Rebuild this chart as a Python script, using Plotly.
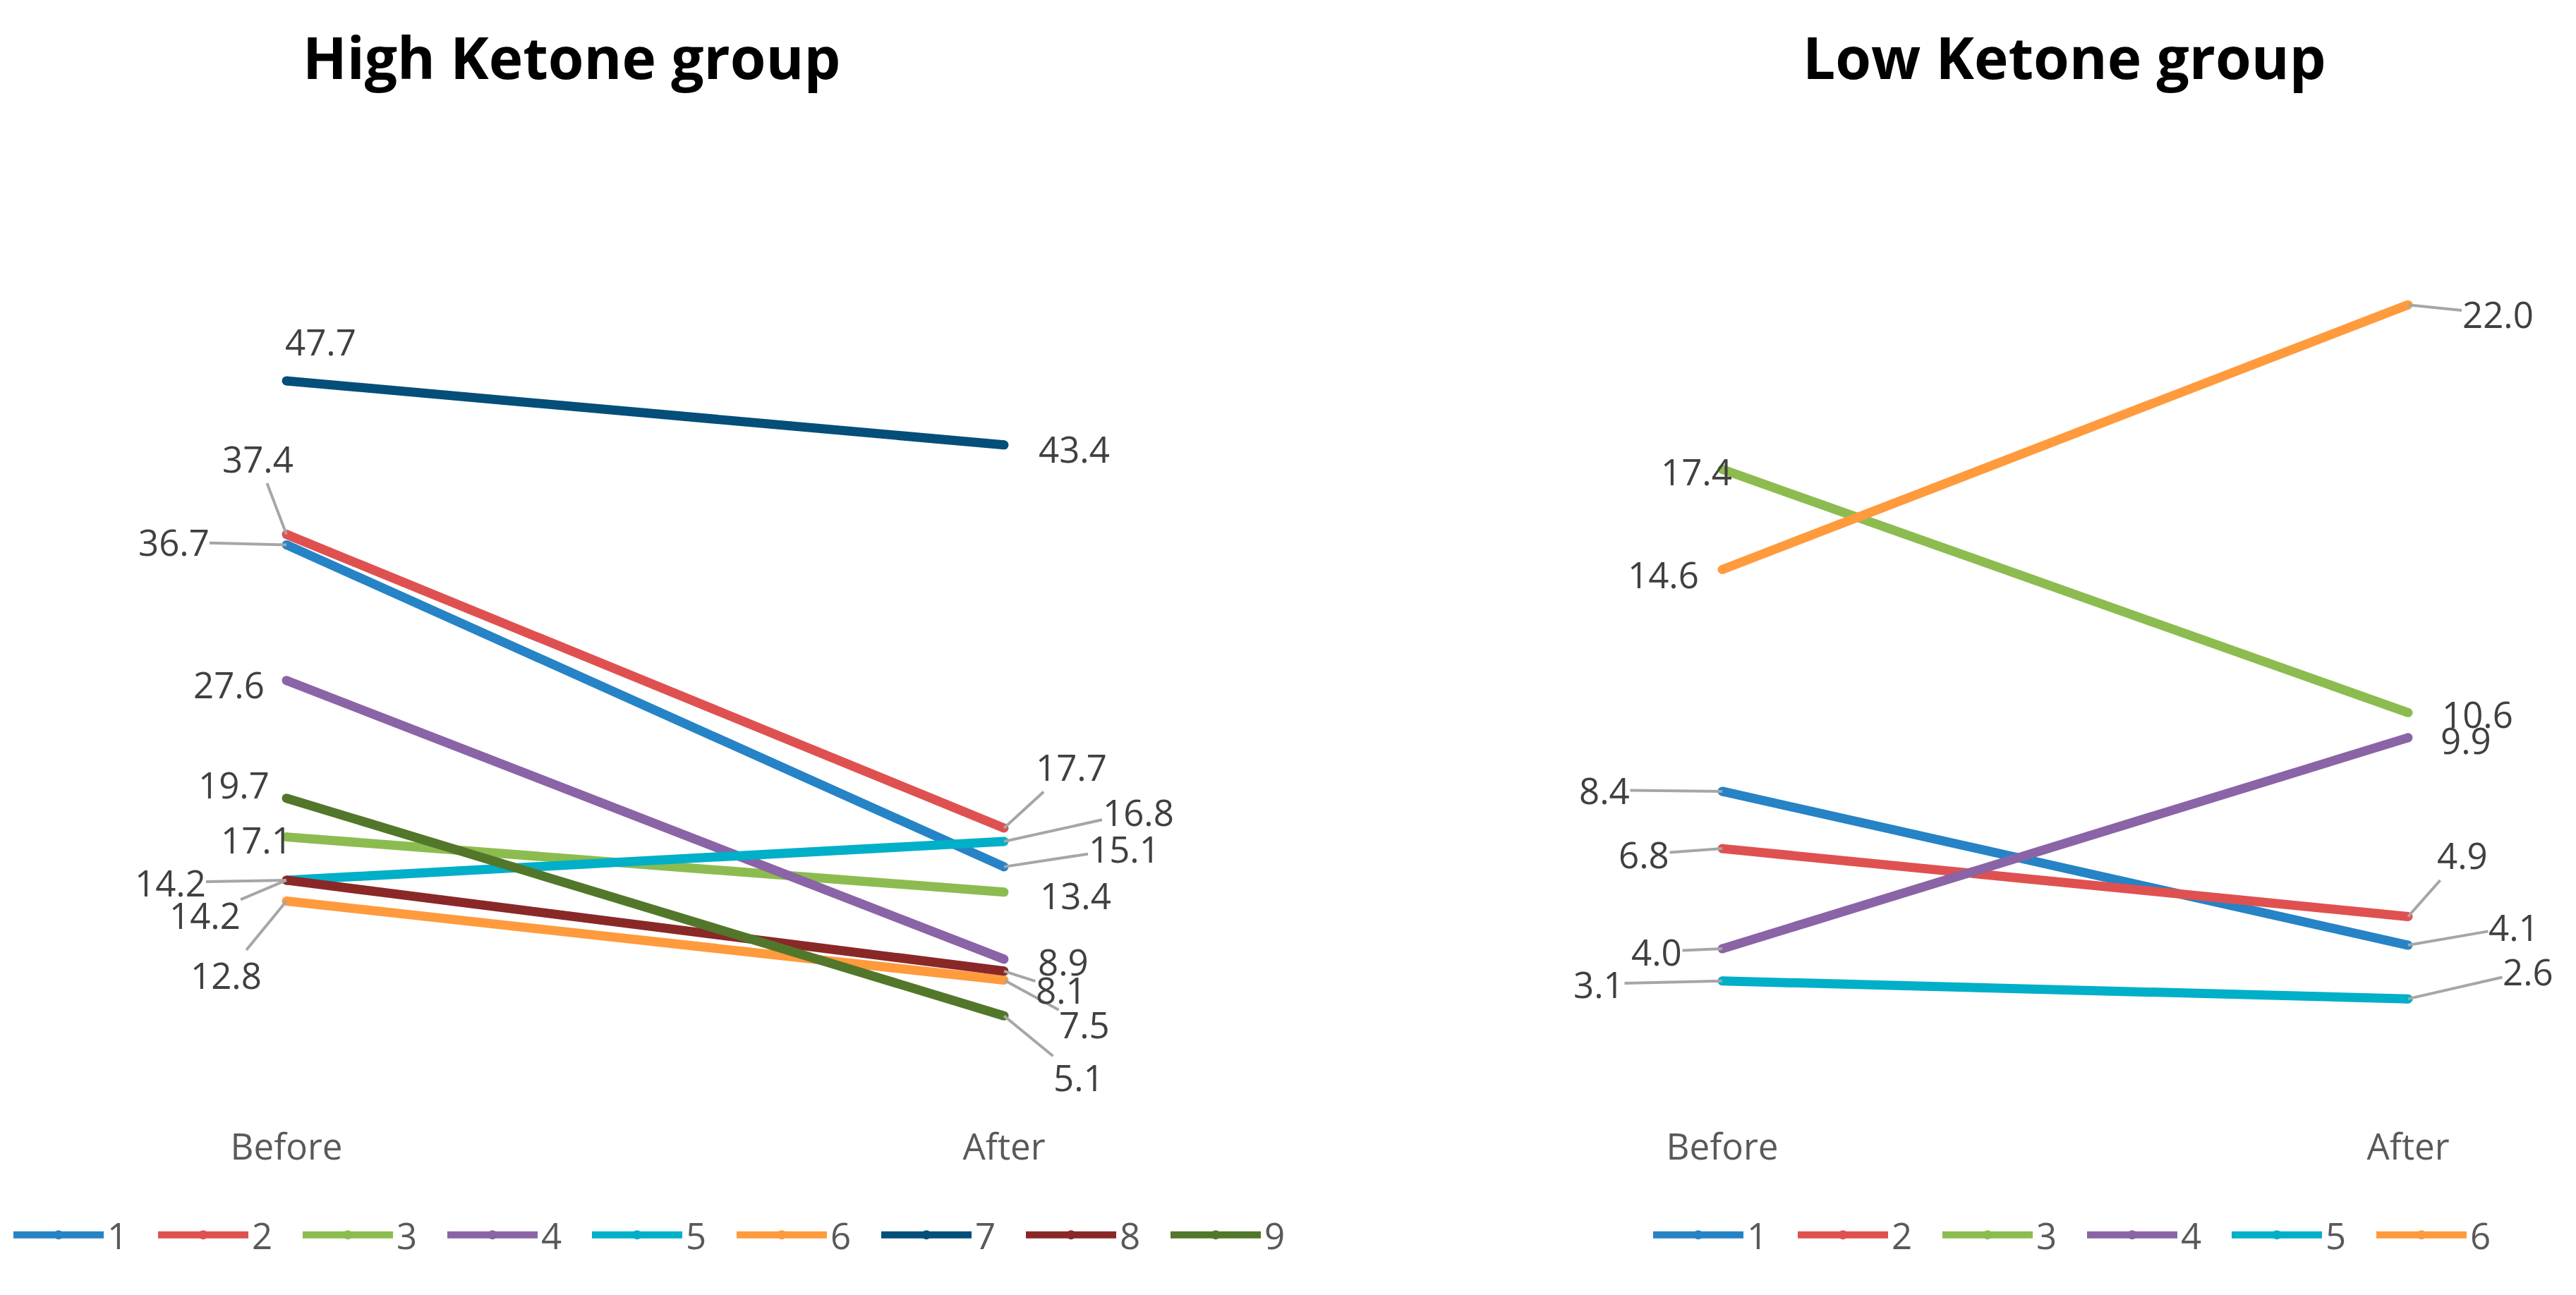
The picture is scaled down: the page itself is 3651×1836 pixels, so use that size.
import plotly.graph_objects as go

# ---------------- data ----------------
categories = ["Before", "After"]

high_names = ["1", "2", "3", "4", "5", "6", "7", "8", "9"]
high_before = [36.7, 37.4, 17.1, 27.6, 14.2, 12.8, 47.7, 14.2, 19.7]
high_after = [15.1, 17.7, 13.4, 8.9, 16.8, 7.5, 43.4, 8.1, 5.1]

low_names = ["1", "2", "3", "4", "5", "6"]
low_before = [8.4, 6.8, 17.4, 4.0, 3.1, 14.6]
low_after = [4.1, 4.9, 10.6, 9.9, 2.6, 22.0]

titles = ["High Ketone group", "Low Ketone group"]

# ---------------- styles ----------------
colors = ["#2683C6", "#DF5150", "#8CBC4F", "#8A64A6", "#00AFC8",
          "#FF9A3D", "#044E7A", "#8A2828", "#52772A"]
FONT = "Open Sans"
LABEL_COLOR = "#404040"
AXIS_COLOR = "#595959"
LEADER_COLOR = "#A6A6A6"
LW = 13
LABEL_SIZE = 51

# label placement (pixel offsets from the point: dx right, dy down; leader line flag)
high_before_off = [(-160, -4, True), (-41, -108, True), (-43, 3, False),
                   (-82, 5, False), (-165, 3, True), (-86, 105, True),
                   (48, -56, False), (-116, 49, True), (-75, -20, False)]
high_after_off = [(170, -26, True), (95, -87, True), (101, 4, False),
                  (84, 3, False), (190, -42, True), (114, 62, True),
                  (99, 5, False), (81, 26, True), (106, 87, True)]
low_before_off = [(-167, -2, True), (-111, 8, True), (-37, 3, False),
                  (-93, 4, True), (-175, 4, True), (-84, 7, False)]
low_after_off = [(150, -26, True), (77, -87, True), (98, 2, False),
                 (82, 3, False), (170, -39, True), (127, 13, True)]

W, H = 3651, 1836

fig = go.Figure()

panels = [
    (high_names, high_before, high_after, high_before_off, high_after_off, "x", "y", "legend"),
    (low_names, low_before, low_after, low_before_off, low_after_off, "x2", "y2", "legend2"),
]

annotations = []
for names, before, after, boff, aoff, xa, ya, lg in panels:
    for i, name in enumerate(names):
        fig.add_trace(go.Scatter(
            x=[0, 1], y=[before[i], after[i]],
            mode="lines+markers",
            name=name,
            line=dict(color=colors[i], width=LW),
            marker=dict(color=colors[i], size=LW, line=dict(width=0)),
            xaxis=xa, yaxis=ya, legend=lg,
            cliponaxis=False,
            hoverinfo="skip",
        ))
        for xv, val, (dx, dy, leader) in ((0, before[i], boff[i]), (1, after[i], aoff[i])):
            common = dict(x=xv, y=val, xref=xa, yref=ya, text=f"{val:.1f}",
                          font=dict(family=FONT, size=LABEL_SIZE, color=LABEL_COLOR))
            if leader:
                annotations.append(dict(**common, showarrow=True, ax=dx, ay=dy,
                                        arrowhead=0, arrowwidth=4,
                                        arrowcolor=LEADER_COLOR, standoff=0,
                                        borderpad=0))
            else:
                annotations.append(dict(**common, showarrow=False,
                                        xshift=dx, yshift=-dy))

# titles
for cx, t in zip([810 / W, 2926 / W], titles):
    annotations.append(dict(x=cx, y=1 - 80 / H, xref="paper", yref="paper",
                            text=f"<b>{t}</b>", showarrow=False,
                            xanchor="center", yanchor="middle",
                            font=dict(family=FONT, size=82, color="#000000")))

ydom = [(H - 1548) / H, (H - 280) / H]

axis_common = dict(showgrid=False, zeroline=False, showline=False)
legend_common = dict(orientation="h", xanchor="left",
                     y=(H - 1751) / H, yanchor="middle",
                     font=dict(family=FONT, size=LABEL_SIZE, color=AXIS_COLOR),
                     itemwidth=128, entrywidth=62, tracegroupgap=0,
                     bgcolor="rgba(0,0,0,0)")
fig.update_layout(
    width=W, height=H,
    margin=dict(l=0, r=0, t=0, b=0),
    paper_bgcolor="white", plot_bgcolor="white",
    font=dict(family=FONT, color=AXIS_COLOR),
    xaxis=dict(domain=[100.9 / W, 1728.1 / W], range=[-0.3, 1.3],
               tickvals=[0, 1], ticktext=categories,
               ticks="outside", ticklen=34, tickcolor="rgba(0,0,0,0)",
               tickfont=dict(family=FONT, size=LABEL_SIZE, color=AXIS_COLOR),
               **axis_common),
    yaxis=dict(domain=ydom, range=[0, 60], showticklabels=False, **axis_common),
    xaxis2=dict(domain=[2149.4 / W, 3607.4 / W], range=[-0.3, 1.2],
                tickvals=[0, 1], ticktext=categories,
                ticks="outside", ticklen=34, tickcolor="rgba(0,0,0,0)",
                tickfont=dict(family=FONT, size=LABEL_SIZE, color=AXIS_COLOR),
                anchor="y2", **axis_common),
    yaxis2=dict(domain=ydom, range=[0, 25], showticklabels=False,
                anchor="x2", **axis_common),
    legend=dict(x=14 / W, **legend_common),
    legend2=dict(x=2338 / W, **legend_common),
    annotations=annotations,
    showlegend=True,
)

fig.write_html("out.html",
               config={"displayModeBar": False},
               post_script="document.body.style.margin='0';document.body.style.overflow='hidden';")
